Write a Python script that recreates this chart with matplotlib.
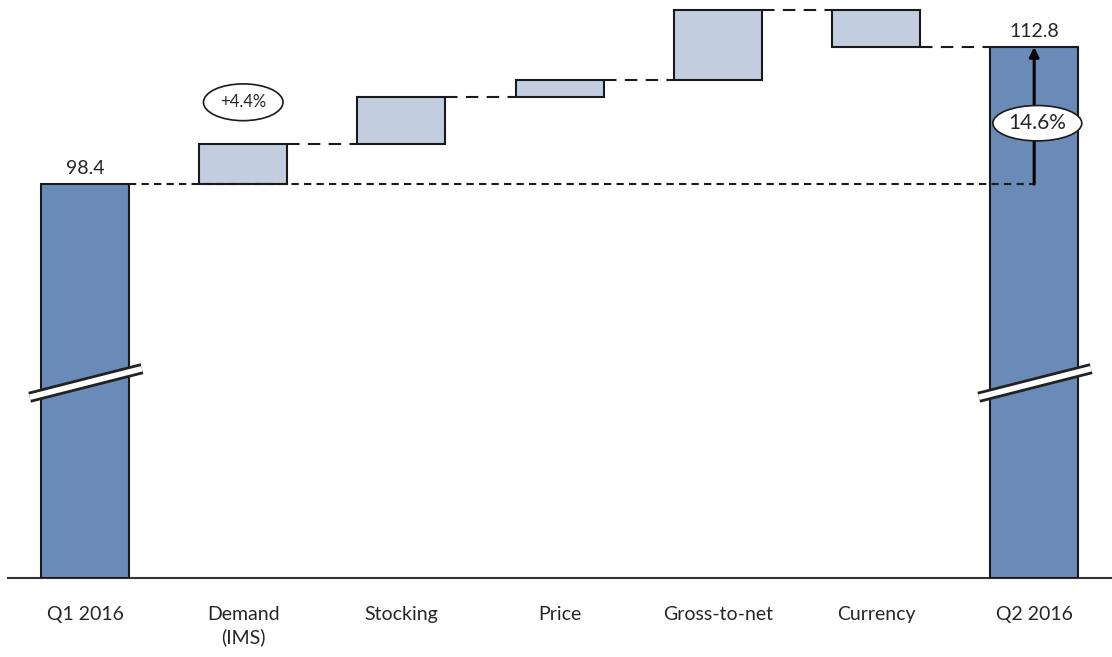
import matplotlib.pyplot as plt
import numpy as np

# Waterfall Q1 2016 -> Q2 2016 with a broken y axis

categories = ["Q1 2016", "Demand\n(IMS)", "Stocking", "Price", "Gross-to-net", "Currency", "Q2 2016"]
start_value = 98.4
deltas = [4.2, 5.0, 1.7, 7.4, -3.9]
end_value = 112.8
demand_label = "+4.4%"

plt.rcParams['font.family'] = ['Lato', 'DejaVu Sans']

total_color = "#6a8ab8"
delta_color = "#c3cde0"
edge = "#1a1a1a"

fig = plt.figure(figsize=(11.12, 6.57), dpi=100)
ax = fig.add_axes([8 / 1112, 79 / 657, 1104 / 1112, 578 / 657])

ybot = 57.0
ax.set_ylim(ybot, ybot + 60.75)
ax.set_xlim(-0.487, 6.492)
x = np.arange(len(categories))
w = 0.556

levels = start_value + np.concatenate([[0], np.cumsum(deltas)])

# total bars
for xi, val in [(0, start_value), (6, end_value)]:
    ax.bar(xi, val - ybot, bottom=ybot, width=w, color=total_color, edgecolor=edge, linewidth=1.5, zorder=3)

# delta boxes
for i, d in enumerate(deltas):
    ax.bar(i + 1, d, bottom=levels[i], width=w, color=delta_color, edgecolor=edge, linewidth=1.5, zorder=3)

# connectors
for i in range(1, len(deltas) + 1):
    ax.plot([i + w / 2, i + 1 - w / 2], [levels[i], levels[i]], color=edge, lw=1.5,
            dashes=(6, 4), zorder=2)
ax.plot([w / 2, 6], [start_value, start_value], color=edge, lw=1.5, dashes=(3.5, 2.5), zorder=4)

# growth arrow
ax.annotate("", xy=(6, end_value), xytext=(6, start_value),
            arrowprops=dict(arrowstyle="-|>", color="black", lw=2.2, mutation_scale=14,
                            shrinkA=0, shrinkB=0), zorder=5)
pct = (end_value / start_value - 1) * 100
ax.text(6.02, 104.8, f"{pct:.1f}%", ha="center", va="center", fontsize=15, color="#262626", zorder=6,
        bbox=dict(boxstyle="ellipse,pad=0.12", fc="white", ec=edge, lw=1.2))

ax.text(1, 107.0, demand_label, ha="center", va="center", fontsize=12, color="#262626",
        bbox=dict(boxstyle="ellipse,pad=0.3", fc="white", ec=edge, lw=1.2))

# value labels
for xi, val in [(0, start_value), (6, end_value)]:
    ax.annotate(f"{val:.1f}", (xi, val), xytext=(0, 5), textcoords="offset points",
                ha="center", va="bottom", fontsize=14, color="#262626")

# axis break marks
for xi in [0, 6]:
    bx = np.array([xi - 0.35, xi + 0.36])
    by = np.array([76.0, 79.0])
    ax.plot(bx, by, color="#222222", lw=8, solid_capstyle="butt", zorder=4)
    ax.plot(bx, by, color="white", lw=4, solid_capstyle="butt", zorder=4)

for s in ["left", "right", "top"]:
    ax.spines[s].set_visible(False)
ax.spines["bottom"].set_color("#333333")
ax.spines["bottom"].set_linewidth(1.5)
ax.set_yticks([])
ax.set_xticks(x)
ax.set_xticklabels(categories, fontsize=14, color="#262626", linespacing=1.4)
ax.tick_params(axis="x", length=0, pad=20)

fig.savefig("out.png", dpi=100)
